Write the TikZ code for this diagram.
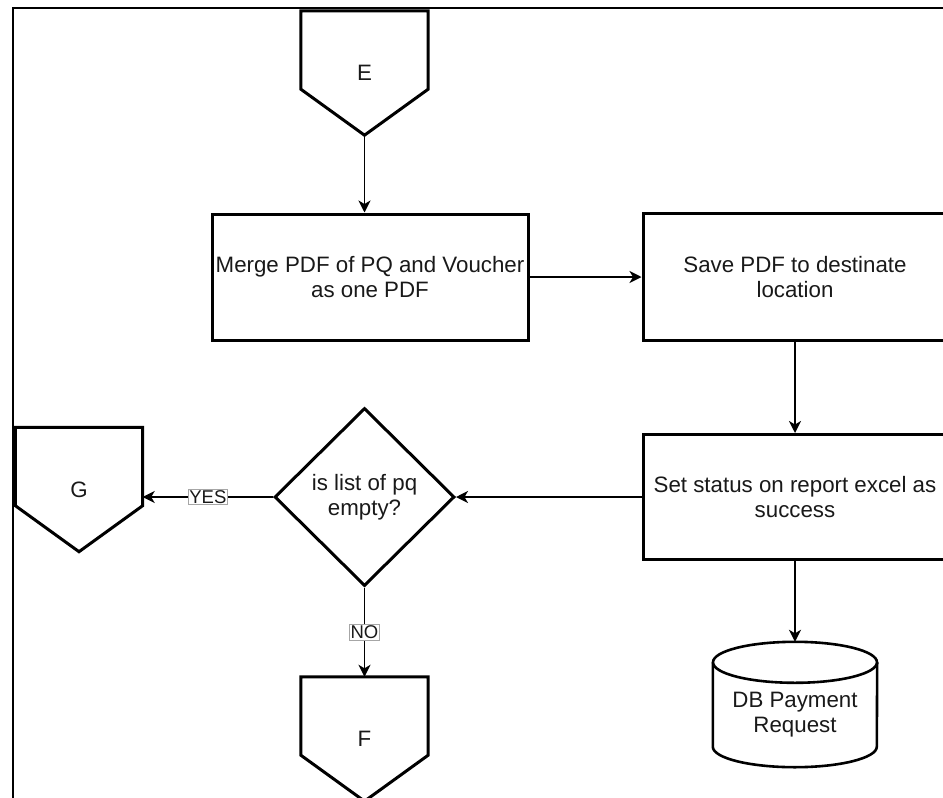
\documentclass[tikz,border=0pt]{standalone}
\usepackage{fontspec}
\setmainfont{Liberation Sans}
\usetikzlibrary{shapes.geometric,arrows.meta,calc}
\begin{document}
\begin{tikzpicture}[x=1pt,y=-1pt,line join=miter,
  txt/.style={font=\fontsize{22.3}{25.5}\selectfont, align=center, text=black!90},
  process/.style={txt, draw, line width=3pt, inner sep=0pt},
  decision/.style={txt, diamond, draw, line width=3pt, inner sep=0pt,
    minimum width=180pt, minimum height=178pt},
  offpage/.style={txt, inner sep=0pt, minimum width=127pt, minimum height=124pt},
  offline/.style={draw=black, line width=3pt},
  conn/.style={line width=1.8pt, -{Stealth[length=12pt,width=12pt,inset=3.5pt]}},
  lbl/.style={font=\fontsize{18.5}{20}\selectfont, fill=white, draw=black!35,
    line width=0.8pt, inner sep=1.2pt, text=black!90},
  dbwall/.style={line width=2.6pt}
]
\useasboundingbox (0,0) rectangle (943,798);
\clip (0,0) rectangle (943,798);

% page frame
\draw[line width=2.5pt] (13,805) -- (13,8) -- (950,8);

% off-page connectors
\node[offpage] (E) at (364.5,73) {E};
\node[offpage] (G) at (79,489.5) {G};
\node[offpage] (F) at (364.5,739) {F};
\foreach \n in {E,G,F}
  \draw[offline] (\n.north west) -- (\n.north east)
    -- ($(\n.north east)!0.63!(\n.south east)$)
    -- (\n.south)
    -- ($(\n.north west)!0.63!(\n.south west)$) -- cycle;

% process steps
\node[process, minimum width=316pt, minimum height=126pt] (merge) at (370,277)
  {Merge PDF of PQ and Voucher\\as one PDF};
\node[process, minimum width=304pt, minimum height=127pt] (save) at (795,277)
  {Save PDF to destinate\\location};
\node[process, minimum width=304pt, minimum height=125pt] (status) at (795,497)
  {Set status on report excel as\\success};

% decision
\node[decision] (q) at (364.5,497) {is list of pq\\empty?};

% database cylinder
\node[minimum width=164pt, minimum height=125pt, inner sep=0pt] (db) at (795,704.5) {};
\draw[dbwall] ($(db.north west)+(0,20.5)$) -- ($(db.south west)+(0,-20.5)$)
  arc[start angle=180, end angle=360, x radius=82pt, y radius=20.5pt]
  -- ($(db.north east)+(0,20.5)$);
\draw[dbwall] ($(db.north)+(0,20.5)$) ellipse [x radius=82pt, y radius=20.5pt];
\node[txt] (dbtext) at ($(db.center)+(0,10)$) {DB Payment\\Request};

% connectors
\draw[conn] (E.south) -- (E.south |- merge.north);
\draw[conn] (merge.east) -- (save.west);
\draw[conn] (save.south) -- (status.north);
\draw[conn] (status.west) -- (q.east);
\draw[conn] (status.south) -- (db.north);
\draw[conn] (q.west) -- node[lbl] {YES} (q.west -| G.east);
\draw[conn] (q.south) -- node[lbl] {NO} (F.north);
\end{tikzpicture}
\end{document}
